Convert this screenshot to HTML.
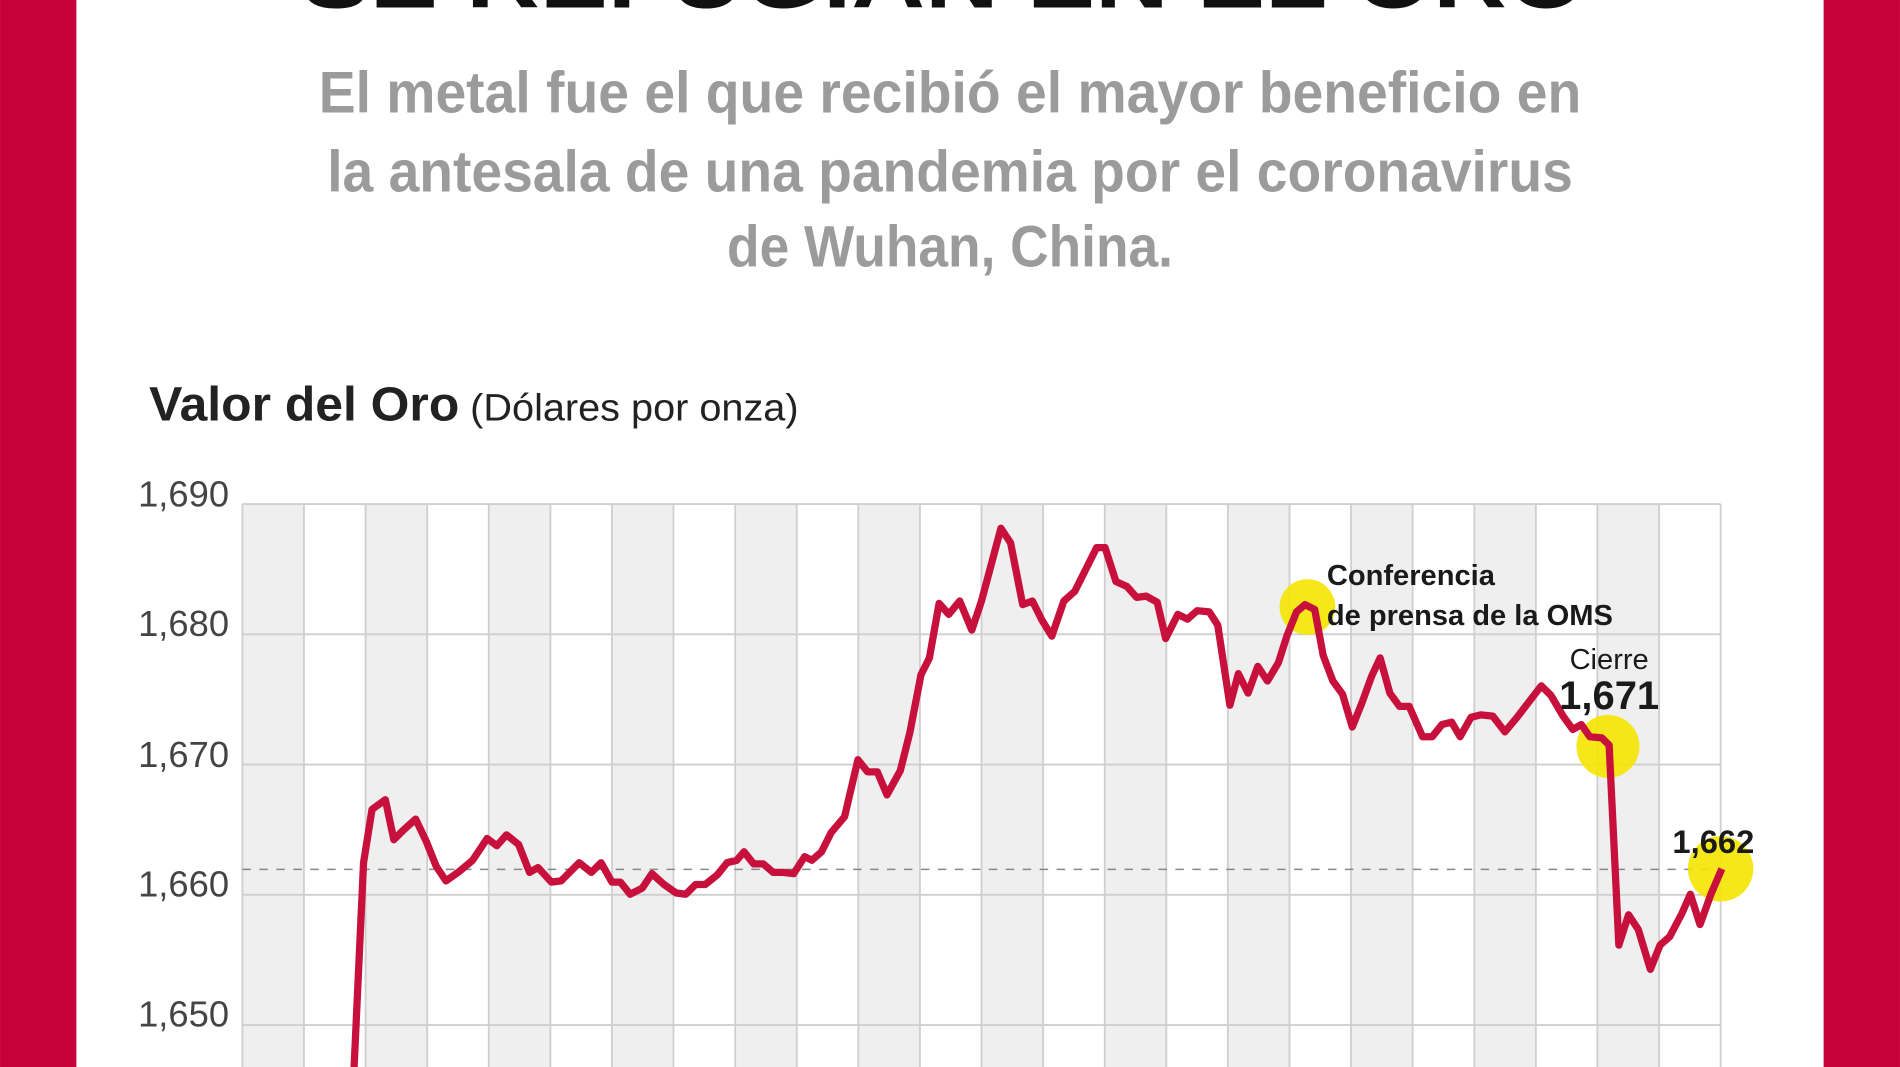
<!DOCTYPE html>
<html><head><meta charset="utf-8"><style>html,body{margin:0;padding:0;background:#fff;overflow:hidden}svg{display:block}</style></head>
<body>
<svg width="1900" height="1067" viewBox="0 0 1568 880.6" xmlns="http://www.w3.org/2000/svg" font-family="'Liberation Sans', sans-serif">
<rect x="0" y="0" width="1568" height="881" fill="#fff"/>
<rect x="0" y="0" width="63" height="881" fill="#c8003a"/>
<rect x="1505" y="0" width="63" height="881" fill="#c8003a"/>
<text x="779" y="6" font-size="72" font-weight="bold" fill="#111" text-anchor="middle" textLength="1060" lengthAdjust="spacingAndGlyphs">SE REFUGIAN EN EL ORO</text>
<g fill="#9b9b9b" font-weight="bold" font-size="48">
<text x="263" y="93" textLength="1042" lengthAdjust="spacingAndGlyphs">El metal fue el que recibió el mayor beneficio en</text>
<text x="270" y="158" textLength="1028" lengthAdjust="spacingAndGlyphs">la antesala de una pandemia por el coronavirus</text>
<text x="600" y="220" textLength="368" lengthAdjust="spacingAndGlyphs">de Wuhan, China.</text>
</g>
<text x="123" y="347" font-size="40" font-weight="bold" fill="#222" textLength="256" lengthAdjust="spacingAndGlyphs">Valor del Oro</text>
<text x="388" y="347" font-size="31" fill="#222" textLength="271" lengthAdjust="spacingAndGlyphs">(Dólares por onza)</text>
<g fill="#efefef">
<rect x="200" y="416" width="50.83" height="470"/>
<rect x="301.7" y="416" width="50.83" height="470"/>
<rect x="403.3" y="416" width="50.83" height="470"/>
<rect x="505" y="416" width="50.83" height="470"/>
<rect x="606.7" y="416" width="50.83" height="470"/>
<rect x="708.3" y="416" width="50.83" height="470"/>
<rect x="810" y="416" width="50.83" height="470"/>
<rect x="911.7" y="416" width="50.83" height="470"/>
<rect x="1013.3" y="416" width="50.83" height="470"/>
<rect x="1115" y="416" width="50.83" height="470"/>
<rect x="1216.7" y="416" width="50.83" height="470"/>
<rect x="1318.3" y="416" width="50.83" height="470"/>
</g>
<g stroke="#cfcfcf" stroke-width="1.5">
<path d="M200 416H1420M200 523.5H1420M200 631H1420M200 738.5H1420M200 846H1420"/>
<path d="M200 416V881M250.8 416V881M301.7 416V881M352.5 416V881M403.3 416V881M454.2 416V881M505 416V881M555.8 416V881M606.7 416V881M657.5 416V881M708.3 416V881M759.2 416V881M810 416V881M860.8 416V881M911.7 416V881M962.5 416V881M1013.3 416V881M1064.2 416V881M1115 416V881M1165.8 416V881M1216.7 416V881M1267.5 416V881M1318.3 416V881M1369.2 416V881M1420 416V881"/>
</g>
<path d="M200 717.5H1420" stroke="#888" stroke-width="1.3" stroke-dasharray="7,7"/>
<g font-size="30" fill="#444" text-anchor="end">
<text x="189" y="418">1,690</text>
<text x="189" y="525">1,680</text>
<text x="189" y="633">1,670</text>
<text x="189" y="740">1,660</text>
<text x="189" y="847">1,650</text>
</g>
<g fill="#f4e400" opacity="0.9">
<circle cx="1079" cy="501" r="23"/>
<circle cx="1327" cy="616" r="26"/>
<circle cx="1420" cy="717" r="27"/>
</g>
<path fill="none" stroke="#c8103c" stroke-width="6" stroke-linejoin="round" d="M292 885L300 712L307 668L318 660L325 693L333 685L343 676L352 695L360 715L368 727L378 720L390 710L402 692L410 698L418 689L428 697L437 720L444 716L455 728L463 727L478 712L488 720L496 712L505 728L512 728L520 738L530 733L538 721L548 730L558 737L566 738L574 730L582 730L592 722L600 712L608 710L614 703L622 713L630 713L638 720L646 720L655 721L664 707L670 710L678 703L686 687L697 674L708 627L716 637L724 637L732 656L743 636L751 604L760 557L767 543L775 498L783 507L792 496L802 520L810 496L818 466L826 436L834 448L844 499L852 496L860 512L868 525L878 496L887 488L896 470L905 452L912 452L921 480L930 484L938 493L946 492L955 497L962 527L972 507L980 511L988 504L998 505L1005 516L1015 582L1022 556L1030 572L1038 550L1046 562L1055 547L1062 525L1070 505L1077 499L1085 503L1092 541L1100 562L1108 573L1116 600L1124 580L1132 558L1139 543L1147 572L1155 583L1163 583L1174 608L1182 608L1190 598L1198 596L1205 608L1214 592L1222 590L1232 591L1242 604L1252 592L1262 579L1272 566L1280 574L1290 591L1298 602L1305 598L1312 608L1322 609L1328 615L1336 780L1344 755L1352 767L1362 800L1370 780L1378 773L1388 754L1395 738L1403 763L1412 738L1421 717"/>
<g fill="#1a1a1a">
<text x="1095" y="483" font-size="24" font-weight="bold">Conferencia</text>
<text x="1095" y="516" font-size="24" font-weight="bold">de prensa de la OMS</text>
<text x="1328" y="552" font-size="24" text-anchor="middle">Cierre</text>
<text x="1328" y="585" font-size="33" font-weight="bold" text-anchor="middle">1,671</text>
<text x="1414" y="704" font-size="27" font-weight="bold" text-anchor="middle">1,662</text>
</g>
</svg>
</body></html>
